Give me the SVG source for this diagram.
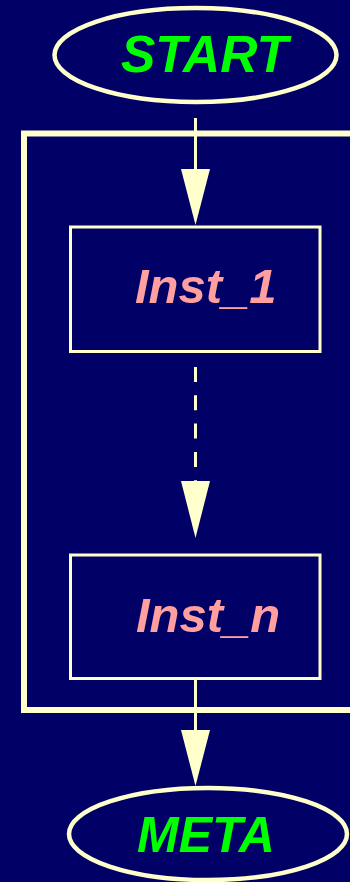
<svg xmlns="http://www.w3.org/2000/svg" width="350" height="882" viewBox="0 0 350 882">
<style>
.ln{stroke:#ffffcc;fill:none}
.ah{fill:#ffffcc;stroke:none}
.term{font-family:"Liberation Sans",Arial,sans-serif;font-weight:bold;font-style:italic;font-size:50px;fill:#00ff00}
.inst{font-family:"Liberation Sans",Arial,sans-serif;font-weight:bold;font-style:italic;font-size:49px;fill:#ff9f9f}
</style>
<rect x="0" y="0" width="350" height="882" fill="#000066"/>
<g id="loop">
<rect class="ln" x="24" y="133.5" width="340" height="576.5" stroke-width="6"/>
</g>
<g id="start">
<ellipse class="ln" cx="195.5" cy="55" rx="141" ry="47" stroke-width="4.5"/>
<text class="term" x="121" y="72" style="font-size:51.5px">START</text>
</g>
<g id="inst1">
<rect class="ln" x="70.5" y="227" width="249.5" height="124.5" stroke-width="3"/>
<text class="inst" x="135" y="303">Inst_1</text>
</g>
<g id="instn">
<rect class="ln" x="70.5" y="555" width="249.5" height="123.5" stroke-width="3"/>
<text class="inst" x="136" y="632">Inst_n</text>
</g>
<g id="meta">
<ellipse class="ln" cx="208" cy="834" rx="139" ry="46" stroke-width="4.5"/>
<text class="term" x="137" y="852">META</text>
</g>
<g id="connectors">
<line class="ln" x1="195.5" y1="118" x2="195.5" y2="170" stroke-width="3"/>
<polygon class="ah" points="181,169 210,169 195.5,225"/>
<line class="ln" x1="195.5" y1="367" x2="195.5" y2="482" stroke-width="3" stroke-dasharray="15 13.3"/>
<polygon class="ah" points="181,481 210,481 195.5,538"/>
<line class="ln" x1="195.5" y1="680" x2="195.5" y2="731" stroke-width="3"/>
<polygon class="ah" points="181,730 210,730 195.5,786"/>
</g>
</svg>
